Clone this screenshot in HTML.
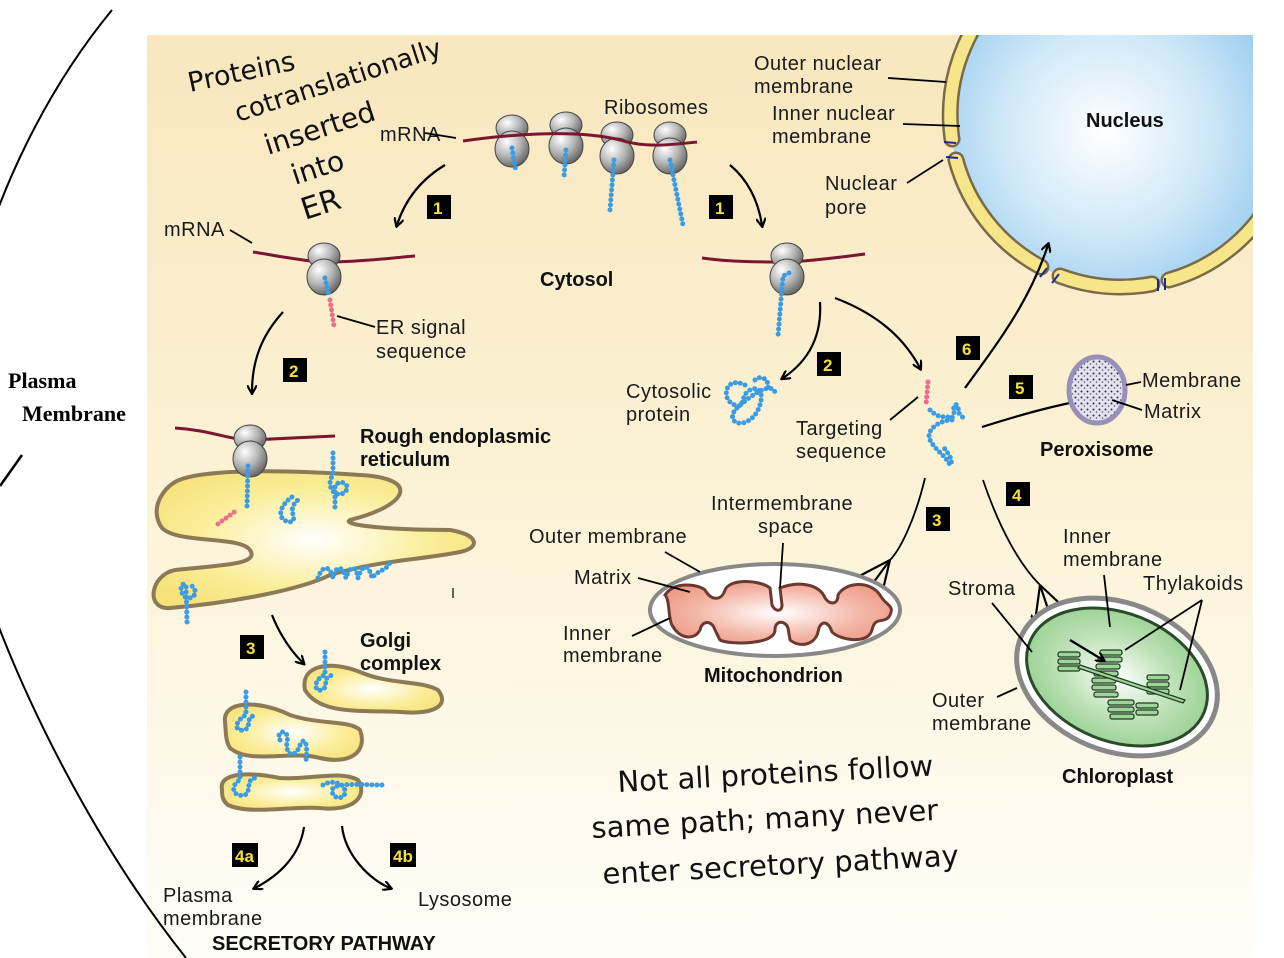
<!DOCTYPE html>
<html><head><meta charset="utf-8"><style>
html,body{margin:0;padding:0;background:#fff;}
svg{display:block;}
.t{font-family:"Liberation Sans",sans-serif;font-size:20px;letter-spacing:0.5px;fill:#1a1a1a;}
.b{font-family:"Liberation Sans",sans-serif;font-size:20px;font-weight:bold;fill:#111;}
.h{font-family:"DejaVu Sans",sans-serif;font-size:29px;fill:#111;}
.n{font-family:"Liberation Sans",sans-serif;font-size:17px;font-weight:bold;fill:#f4e03a;}
.bead{fill:none;stroke:#3b9be3;stroke-width:5;stroke-linecap:round;stroke-dasharray:0 5;}
.pink{fill:none;stroke:#e8708a;stroke-width:5;stroke-linecap:round;stroke-dasharray:0 5;}
.mr{fill:none;stroke:#7a1630;stroke-width:3;}
.ln{fill:none;stroke:#000;stroke-width:1.8;}
.ar{fill:none;stroke:#000;stroke-width:2.2;marker-end:url(#ah);}
</style></head><body>
<svg width="1284" height="958" viewBox="0 0 1284 958" xmlns="http://www.w3.org/2000/svg">
<defs>
<linearGradient id="bg" x1="0" y1="0" x2="0" y2="1">
<stop offset="0" stop-color="#f8e7bf"/><stop offset="0.45" stop-color="#fbf1d3"/><stop offset="1" stop-color="#fffdf7"/></linearGradient>
<radialGradient id="nuc" cx="0.45" cy="0.55" r="0.6"><stop offset="0" stop-color="#ffffff"/><stop offset="0.5" stop-color="#cfe8f8"/><stop offset="1" stop-color="#8cc4ec"/></radialGradient>
<radialGradient id="yel" cx="0.5" cy="0.5" r="0.6"><stop offset="0" stop-color="#ffffff"/><stop offset="0.6" stop-color="#fbee9a"/><stop offset="1" stop-color="#f7e27a"/></radialGradient>
<radialGradient id="gry" cx="0.35" cy="0.3" r="0.8"><stop offset="0" stop-color="#ffffff"/><stop offset="0.5" stop-color="#b5b5b5"/><stop offset="1" stop-color="#555"/></radialGradient>
<radialGradient id="grn" cx="0.5" cy="0.5" r="0.6"><stop offset="0" stop-color="#ffffff"/><stop offset="0.5" stop-color="#bfe2b8"/><stop offset="1" stop-color="#8fcc88"/></radialGradient>
<radialGradient id="pnk" cx="0.5" cy="0.5" r="0.6"><stop offset="0" stop-color="#fff"/><stop offset="0.6" stop-color="#f4b8a8"/><stop offset="1" stop-color="#ec9684"/></radialGradient>
<pattern id="spk" width="6" height="6" patternUnits="userSpaceOnUse"><rect width="6" height="6" fill="#e4e2f2"/><circle cx="1.5" cy="1.5" r="1" fill="#333"/><circle cx="4.5" cy="4" r="0.8" fill="#555"/></pattern>
<marker id="ah" markerWidth="10" markerHeight="10" refX="7" refY="5" orient="auto" markerUnits="userSpaceOnUse"><path d="M0,0 L9,5 L0,10" fill="none" stroke="#000" stroke-width="2.2"/></marker>
<clipPath id="cl"><rect x="147" y="35" width="1106" height="923"/></clipPath>
<g id="rib"><ellipse cx="0" cy="-12" rx="16" ry="13" fill="url(#gry)" stroke="#444" stroke-width="1"/><ellipse cx="0" cy="9" rx="17" ry="18" fill="url(#gry)" stroke="#444" stroke-width="1"/></g>
</defs>
<rect x="147" y="35" width="1106" height="923" fill="url(#bg)"/>
<!-- nucleus -->
<g clip-path="url(#cl)">
<circle cx="1122" cy="115" r="172" fill="url(#nuc)"/>
<g fill="none" stroke="#7a6a4a" stroke-width="17" stroke-linecap="round">
<path d="M1023,-26 A172,172 0 0 0 952,139"/>
<path d="M956,160 A172,172 0 0 0 1041,267"/>
<path d="M1060,276 A172,172 0 0 0 1152,284"/>
<path d="M1169,280 A172,172 0 0 0 1284,174"/>
</g>
<g fill="none" stroke="#f7e58a" stroke-width="12" stroke-linecap="round">
<path d="M1023,-26 A172,172 0 0 0 952,139"/>
<path d="M956,160 A172,172 0 0 0 1041,267"/>
<path d="M1060,276 A172,172 0 0 0 1152,284"/>
<path d="M1169,280 A172,172 0 0 0 1284,174"/>
</g>
<g stroke="#1a2a9a" stroke-width="2"><path d="M944,142 l12,1 M946,157 l12,1 M1040,277 l7,-9 M1052,283 l7,-9 M1158,291 l0,-12 M1165,290 l0,-12"/></g>
</g>
<text class="b" x="1086" y="127">Nucleus</text>
<!-- left arc -->
<path d="M112,10 C-20,170 -85,420 -25,560 C20,700 100,850 186,958" fill="none" stroke="#000" stroke-width="2"/>
<path d="M0,486 L22,455" stroke="#000" stroke-width="2.5"/>
<text x="8" y="388" style="font-family:'Liberation Serif',serif;font-weight:bold;font-size:22px">Plasma</text>
<text x="22" y="421" style="font-family:'Liberation Serif',serif;font-weight:bold;font-size:22px">Membrane</text>
<!-- handwritten -->
<g class="h">
<text x="190" y="92" transform="rotate(-12 190 92)" style="font-size:27px">Proteins</text>
<text x="238" y="122" transform="rotate(-18 238 122)" style="font-size:26px">cotranslationally</text>
<text x="268" y="155" transform="rotate(-18 268 155)" style="font-size:28px">inserted</text>
<text x="295" y="185" transform="rotate(-18 295 185)" style="font-size:28px">into</text>
<text x="305" y="220" transform="rotate(-18 305 220)" style="font-size:30px">ER</text>
<text x="618" y="792" transform="rotate(-3 618 792)">Not all proteins follow</text>
<text x="592" y="838" transform="rotate(-3 592 838)">same path; many never</text>
<text x="603" y="884" transform="rotate(-3 603 884)">enter secretory pathway</text>
</g>
<!-- top polysome -->
<text class="t" x="380" y="141">mRNA</text>
<path class="ln" d="M425,133 L456,138"/>
<text class="t" x="604" y="114">Ribosomes</text>
<use href="#rib" x="512" y="140"/><use href="#rib" x="566" y="137"/><use href="#rib" x="617" y="147"/><use href="#rib" x="670" y="147"/>
<path class="mr" d="M463,141 C520,133 580,130 620,140 C645,148 670,145 697,142"/>
<path class="bead" d="M512,148 L516,172"/><path class="bead" d="M566,150 L564,178"/><path class="bead" d="M614,160 L610,210"/><path class="bead" d="M670,160 L683,225"/>
<!-- arrows 1 -->
<path class="ar" d="M445,165 C420,180 405,200 397,225"/>
<path class="ar" d="M730,165 C748,180 758,200 762,225"/>
<rect x="427" y="195" width="24" height="24" fill="#000"/><text class="n" x="433" y="214">1</text>
<rect x="709" y="195" width="24" height="24" fill="#000"/><text class="n" x="715" y="214">1</text>
<!-- left ER-bound ribosome -->
<text class="t" x="164" y="236">mRNA</text><path class="ln" d="M230,230 L252,243"/>
<path class="mr" d="M253,252 C290,258 310,262 330,262 C360,262 390,258 415,256"/>
<use href="#rib" x="324" y="268"/>
<path class="bead" d="M325,278 L329,296"/><path class="pink" d="M330,300 L334,326"/>
<path class="ln" d="M337,316 L375,327"/>
<text class="t" x="376" y="334">ER signal</text><text class="t" x="376" y="358">sequence</text>
<text class="b" x="540" y="286">Cytosol</text>
<path class="ar" d="M283,312 C262,335 252,360 252,392"/>
<rect x="283" y="358" width="24" height="24" fill="#000"/><text class="n" x="289" y="377">2</text>
<!-- ER -->
<path d="M175,482 C200,468 290,470 360,475 C420,478 410,505 350,520 C340,525 390,530 450,530 C480,535 480,548 460,552 C420,560 380,560 330,575 C300,590 230,603 170,608 C145,610 150,575 175,570 C220,565 260,565 250,550 C240,535 170,545 160,525 C150,505 165,488 175,482 Z" fill="url(#yel)" stroke="#8b7a55" stroke-width="4"/>
<path class="mr" d="M175,428 C210,430 230,440 250,440 C290,438 330,436 335,436"/>
<use href="#rib" x="250" y="450"/>
<path class="bead" d="M248,466 L247,506"/>
<path class="pink" d="M218,524 L237,510"/>
<path class="bead" d="M292,497 C280,505 275,520 290,522 C300,520 285,510 298,500"/>
<path class="bead" d="M333,453 L333,475 C325,485 335,500 345,492 C352,485 340,478 335,486 L335,508"/>
<path class="bead" d="M318,578 C322,565 330,565 333,578 C336,565 342,565 346,578 C350,565 356,565 358,578 C362,565 368,562 372,578 C378,570 388,570 390,562"/>
<path class="bead" d="M187,622 L186,585 C178,580 180,600 190,598 C198,596 196,585 188,585"/>
<text class="b" x="360" y="443">Rough endoplasmic</text><text class="b" x="360" y="466">reticulum</text>
<path d="M453,588 L453,598" stroke="#333" stroke-width="1.5"/>
<!-- to golgi -->
<path class="ar" d="M272,615 C280,635 290,650 303,663"/>
<rect x="240" y="635" width="24" height="24" fill="#000"/><text class="n" x="246" y="654">3</text>
<text class="b" x="360" y="647">Golgi</text><text class="b" x="360" y="670">complex</text>
<g fill="url(#yel)" stroke="#8b7a55" stroke-width="4">
<path d="M305,690 C300,665 330,660 360,672 C390,685 420,680 438,690 C450,705 435,715 400,712 C360,710 320,715 305,690 Z"/>
<path d="M225,722 C222,700 260,700 290,715 C320,725 350,720 360,730 C368,752 350,765 320,758 C290,750 250,765 230,748 C225,740 226,730 225,722 Z"/>
<path d="M222,790 C218,772 250,772 280,778 C310,780 340,770 358,780 C368,795 355,812 320,808 C290,806 250,815 228,805 C222,800 222,795 222,790 Z"/>
</g>
<path class="bead" d="M325,652 L325,675 C315,678 312,692 322,690 C330,686 320,676 335,675"/>
<path class="bead" d="M246,692 L246,715 C236,720 232,732 245,730 C252,726 245,716 255,716"/>
<path class="bead" d="M280,740 C275,730 290,728 287,742 C285,755 295,760 300,745 C305,735 308,745 306,760"/>
<path class="bead" d="M240,757 L240,780 C230,785 232,798 245,795 C252,790 245,780 255,778"/>
<path class="bead" d="M323,785 C330,780 345,782 345,792 C345,800 332,800 332,790 C335,782 360,785 382,785"/>
<path class="ar" d="M304,827 C300,855 280,875 255,888"/>
<path class="ar" d="M342,826 C345,855 370,880 390,888"/>
<rect x="232" y="843" width="26" height="24" fill="#000"/><text class="n" x="235" y="862">4a</text>
<rect x="390" y="843" width="26" height="24" fill="#000"/><text class="n" x="393" y="862">4b</text>
<text class="t" x="163" y="902">Plasma</text><text class="t" x="163" y="925">membrane</text>
<text class="t" x="418" y="906">Lysosome</text>
<text class="b" x="212" y="950">SECRETORY PATHWAY</text>
<!-- right free ribosome -->
<path class="mr" d="M702,258 C730,262 760,262 790,262 C820,260 850,256 865,254"/>
<use href="#rib" x="787" y="268"/>
<path class="bead" d="M789,273 L783,276 L778,336"/>
<path class="ar" d="M820,302 C822,335 810,360 783,378"/>
<path class="ar" d="M835,298 C880,315 905,340 920,368"/>
<rect x="817" y="352" width="24" height="24" fill="#000"/><text class="n" x="823" y="371">2</text>
<text class="t" x="626" y="398">Cytosolic</text><text class="t" x="626" y="421">protein</text>
<path class="bead" d="M745,385 C725,375 720,400 735,405 C745,410 740,395 750,390 C760,385 765,395 758,410 C748,430 725,425 735,410 C745,400 770,380 775,392"/>
<path class="bead" d="M755,380 C760,375 770,378 768,390"/>
<!-- targeted protein -->
<path class="pink" d="M928,382 L926,405"/>
<path class="bead" d="M930,410 C940,420 945,415 952,418 L955,410 C950,405 960,400 958,412 L965,420 M952,420 C940,420 925,430 930,440 C935,450 945,455 950,465 C955,460 945,450 942,445"/>
<text class="t" x="796" y="435">Targeting</text><text class="t" x="796" y="458">sequence</text>
<path class="ln" d="M890,420 L918,397"/>
<rect x="956" y="336" width="24" height="24" fill="#000"/><text class="n" x="962" y="355">6</text>
<path class="ar" d="M965,388 C1000,340 1030,300 1048,245"/>
<rect x="1009" y="375" width="24" height="24" fill="#000"/><text class="n" x="1015" y="394">5</text>
<path class="ar" d="M982,427 C1020,415 1055,405 1095,398"/>
<!-- peroxisome -->
<ellipse cx="1097" cy="390" rx="28" ry="33" fill="url(#spk)" stroke="#9890b8" stroke-width="5"/>
<text class="t" x="1142" y="387">Membrane</text><text class="t" x="1144" y="418">Matrix</text>
<path class="ln" d="M1126,385 L1141,382 M1112,400 L1142,410"/>
<text class="b" x="1040" y="456">Peroxisome</text>
<!-- arrows 3 and 4 -->
<rect x="926" y="507" width="24" height="24" fill="#000"/><text class="n" x="932" y="526">3</text>
<rect x="1006" y="482" width="24" height="24" fill="#000"/><text class="n" x="1012" y="501">4</text>
<path class="ln" d="M925,478 C915,520 900,550 890,560"/>
<path class="ar" d="M890,560 L848,582"/><path class="ar" d="M890,560 L862,598"/><path class="ar" d="M890,560 L880,602"/>
<path class="ln" d="M983,480 C1000,530 1020,565 1040,585"/>
<path class="ar" d="M1040,585 L1035,622"/><path class="ar" d="M1040,585 L1055,630"/><path class="ar" d="M1040,585 L1072,615"/>
<!-- mitochondrion -->
<ellipse cx="775" cy="610" rx="125" ry="46" fill="#fff" stroke="#888" stroke-width="4"/>
<path d="M665,595 C675,580 700,585 705,590 C712,602 722,600 725,590 C730,578 760,580 770,588 L772,605 C775,612 782,612 782,605 L780,588 C800,580 820,585 825,598 C830,605 838,605 838,595 C845,582 870,580 880,595 C885,605 895,605 890,615 C885,625 875,615 872,630 C868,645 840,640 832,632 C828,620 820,620 818,632 C815,645 800,648 790,640 L788,628 C785,620 775,620 775,630 C775,645 730,645 720,640 L715,630 C712,620 702,620 700,630 C695,640 680,640 672,625 C668,618 670,600 665,595 Z" fill="url(#pnk)" stroke="#6a3a30" stroke-width="3"/>
<text class="t" x="529" y="543">Outer membrane</text>
<path class="ln" d="M665,552 L700,572"/>
<text class="t" x="711" y="510">Intermembrane</text><text class="t" x="758" y="533">space</text>
<path class="ln" d="M783,543 L780,588"/>
<text class="t" x="574" y="584">Matrix</text><path class="ln" d="M638,578 L690,592"/>
<text class="t" x="563" y="640">Inner</text><text class="t" x="563" y="662">membrane</text>
<path class="ln" d="M632,636 L670,618"/>
<text class="b" x="704" y="682">Mitochondrion</text>
<!-- chloroplast -->
<ellipse cx="1117" cy="677" rx="104" ry="74" transform="rotate(22 1117 677)" fill="#fff" stroke="#888" stroke-width="5"/>
<ellipse cx="1117" cy="677" rx="94" ry="64" transform="rotate(22 1117 677)" fill="url(#grn)" stroke="#2a4a2a" stroke-width="3"/>
<g fill="#9fd49a" stroke="#1f3a1f" stroke-width="1.2">
<rect x="1058" y="652" width="22" height="5" rx="2"/><rect x="1058" y="659" width="22" height="5" rx="2"/><rect x="1058" y="666" width="22" height="5" rx="2"/>
<rect x="1100" y="650" width="22" height="5" rx="2"/><rect x="1098" y="657" width="24" height="5" rx="2"/><rect x="1096" y="664" width="24" height="5" rx="2"/><rect x="1094" y="671" width="24" height="5" rx="2"/><rect x="1092" y="678" width="24" height="5" rx="2"/><rect x="1092" y="685" width="24" height="5" rx="2"/><rect x="1094" y="692" width="24" height="5" rx="2"/>
<rect x="1147" y="675" width="22" height="5" rx="2"/><rect x="1147" y="682" width="22" height="5" rx="2"/><rect x="1147" y="689" width="22" height="5" rx="2"/>
<rect x="1108" y="700" width="26" height="5" rx="2"/><rect x="1108" y="707" width="26" height="5" rx="2"/><rect x="1110" y="714" width="24" height="5" rx="2"/><rect x="1136" y="703" width="22" height="5" rx="2"/><rect x="1136" y="710" width="22" height="5" rx="2"/>
<path d="M1080,665 L1185,700 L1183,703 L1078,668 Z"/>
</g>
<path class="ar" d="M1070,640 L1103,660"/>
<text class="t" x="948" y="595">Stroma</text><path class="ln" d="M992,603 L1032,652"/>
<text class="t" x="1063" y="543">Inner</text><text class="t" x="1063" y="566">membrane</text>
<path class="ln" d="M1104,575 L1110,627"/>
<text class="t" x="1143" y="590">Thylakoids</text>
<path class="ln" d="M1202,600 L1125,650 M1202,600 L1180,690"/>
<text class="t" x="932" y="707">Outer</text><text class="t" x="932" y="730">membrane</text>
<path class="ln" d="M997,697 L1017,688"/>
<text class="b" x="1062" y="783">Chloroplast</text>
<!-- nuclear labels -->
<text class="t" x="754" y="70">Outer nuclear</text><text class="t" x="754" y="93">membrane</text>
<path class="ln" d="M888,78 L946,82"/>
<text class="t" x="772" y="120">Inner nuclear</text><text class="t" x="772" y="143">membrane</text>
<path class="ln" d="M903,124 L960,126"/>
<text class="t" x="825" y="190">Nuclear</text><text class="t" x="825" y="214">pore</text>
<path class="ln" d="M907,183 L943,160"/>
</svg>
</body></html>
